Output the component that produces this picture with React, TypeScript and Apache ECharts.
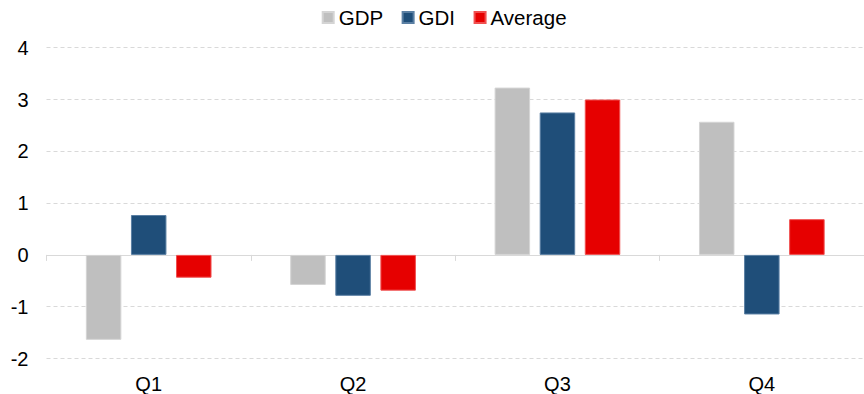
import React, { useEffect, useRef } from "react";
import * as echarts from "echarts";

const categories = ["Q1", "Q2", "Q3", "Q4"];
const gdp = [-1.64, -0.58, 3.23, 2.57];
const gdi = [0.77, -0.79, 2.75, -1.15];
const average = [-0.44, -0.69, 3.0, 0.69];
const yTicks = { min: -2, max: 4, interval: 1 };

const FONT = "Liberation Sans, Arial, sans-serif";

export default function App() {
  const ref = useRef<HTMLDivElement>(null);
  useEffect(() => {
    if (!ref.current) return;
    const chart = echarts.init(ref.current, undefined, { renderer: "svg" });
    const barCommon = {
      type: "bar",
      barWidth: 35.5,
      barGap: "27%",
      xAxisIndex: 0,
      yAxisIndex: 0,
    };
    chart.setOption({
      animation: false,
      backgroundColor: "#ffffff",
      textStyle: { fontFamily: FONT },
      legend: {
        top: 7,
        left: 321.7,
        padding: 0,
        itemWidth: 11,
        itemHeight: 11,
        itemGap: 18.5,
        icon: "rect",
        textStyle: { fontSize: 20.5, color: "#000", fontFamily: FONT },
        data: ["GDP", "GDI", "Average"],
      },
      grid: { left: 46.5, right: -1.5, top: 47.7, bottom: 33.7, containLabel: false },
      xAxis: [
        {
          type: "category",
          data: categories,
          axisLine: { onZero: true, lineStyle: { color: "#d9d9d9", width: 1 } },
          axisTick: { show: true, length: 6, lineStyle: { color: "#d9d9d9" } },
          axisLabel: { show: false },
          splitLine: { show: false },
        },
        {
          type: "category",
          data: categories,
          position: "bottom",
          axisLine: { show: false, onZero: false },
          axisTick: { show: false },
          axisLabel: { show: true, fontSize: 20, color: "#000", margin: 15.5, fontFamily: FONT },
          splitLine: { show: false },
        },
      ],
      yAxis: {
        type: "value",
        min: yTicks.min,
        max: yTicks.max,
        interval: yTicks.interval,
        axisLine: { show: false },
        axisTick: { show: false },
        axisLabel: { fontSize: 20, color: "#000", margin: 18, fontFamily: FONT },
        splitLine: { lineStyle: { color: "#d9d9d9", type: [4, 3], width: 1 } },
      },
      series: [
        {
          ...barCommon,
          name: "GDP",
          data: gdp,
          itemStyle: { color: "#bfbfbf", borderColor: "#d4d4d4", borderWidth: 1 },
        },
        {
          ...barCommon,
          name: "GDI",
          data: gdi,
          itemStyle: { color: "#1f4e79", borderColor: "#5a7fa3", borderWidth: 1 },
        },
        {
          ...barCommon,
          name: "Average",
          data: average,
          itemStyle: { color: "#e60000", borderColor: "#f05050", borderWidth: 1 },
        },
      ],
    });
    return () => chart.dispose();
  }, []);
  return (
    <div
      ref={ref}
      style={{ position: "absolute", left: 0, top: 0, width: 864, height: 394, background: "#fff" }}
    />
  );
}
